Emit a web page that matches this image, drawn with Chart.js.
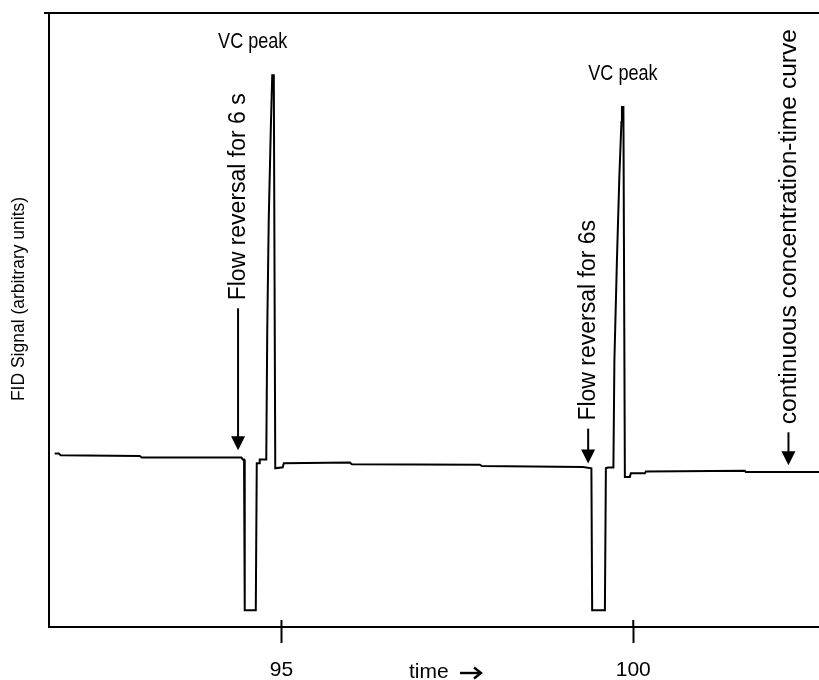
<!DOCTYPE html>
<html><head><meta charset="utf-8">
<script src="https://cdn.jsdelivr.net/npm/chart.js@4/dist/chart.umd.min.js"></script>
<style>html,body{margin:0;padding:0;background:#fff}#wrap{width:819px;height:680px;position:relative}</style>
</head><body><div id="wrap"><canvas id="c"></canvas></div>
<script>
// ---- data ----
const timeValues = [91.777, 91.834, 91.862, 92.985, 93.014, 94.431, 94.450, 94.468, 94.478, 94.635,
  94.649, 94.684, 94.691, 94.784, 94.798, 94.819, 94.848, 94.869, 94.891, 94.912,
  95.018, 95.033, 95.971, 96.000, 97.820, 97.848, 99.284, 99.405, 99.416, 99.597,
  99.611, 99.640, 99.718, 99.732, 99.768, 99.803, 99.832, 99.839, 99.860, 99.881,
  99.952, 99.966, 100.166, 100.180, 101.587, 101.601, 102.640];
const signalValues = [28.24, 28.24, 27.96, 27.85, 27.59, 27.59, 27.26, 27.26, 2.72, 2.72,
  26.66, 26.66, 27.26, 27.26, 48.32, 66.24, 80.90, 89.85, 89.85, 25.85,
  26.01, 26.66, 26.78, 26.50, 26.42, 26.21, 26.06, 25.85, 2.72, 2.72,
  25.85, 25.98, 25.98, 43.44, 59.72, 73.57, 82.25, 84.69, 84.69, 24.43,
  24.43, 25.03, 25.03, 25.33, 25.44, 25.24, 25.24];
const tickValues = [95, 100];
const tickLabels = ['95', '100'];
const yAxisTitle = 'FID Signal (arbitrary units)';
const xAxisTitle = 'time';
const peakLabels = ['VC peak', 'VC peak'];
const peakTimes = [94.592, 99.853];
const peakSignals = [94.25, 89.04];
const markerLabels = ['Flow reversal for 6 s', 'Flow reversal for 6s', 'continuous concentration-time curve'];
const markerTimes = [94.383, 99.359, 102.206];
const markerSignals = [28.78, 26.61, 26.34];

// ---- styling / layout ----
const ink = '#000';
const FONT = '"Liberation Sans", Arial, Helvetica, sans-serif';
const markerTextGap = [150, 43, 41];
const markerStretch = [1.0, 1.0, 1.07];

function txt(ctx, s, x, y, size, o) {
  o = o || {};
  ctx.save();
  ctx.translate(x, y);
  if (o.rot) ctx.rotate(o.rot);
  ctx.scale(o.sx || 1, o.sy || 1);
  ctx.font = size + 'px ' + FONT;
  ctx.fillStyle = ink;
  ctx.textAlign = o.align || 'center';
  ctx.textBaseline = o.baseline || 'middle';
  ctx.fillText(s, 0, 0);
  ctx.restore();
}

const decor = {
  id: 'decor',
  afterDraw(chart) {
    const ctx = chart.ctx, xs = chart.scales.x, ys = chart.scales.y, a = chart.chartArea;
    ctx.save();
    // top frame line
    ctx.strokeStyle = ink; ctx.lineWidth = 2;
    ctx.beginPath(); ctx.moveTo(a.left - 5, a.top); ctx.lineTo(a.right, a.top); ctx.stroke();
    // tick stubs above the axis
    tickValues.forEach(v => {
      const x = xs.getPixelForValue(v);
      ctx.beginPath(); ctx.moveTo(x, a.bottom - 7); ctx.lineTo(x, a.bottom); ctx.stroke();
    });
    // y axis title
    txt(ctx, yAxisTitle, 19, 299, 17.5, {rot: -Math.PI / 2});
    // x axis title with arrow
    txt(ctx, xAxisTitle, 409, 672, 21, {align: 'left'});
    ctx.lineWidth = 2.4;
    ctx.beginPath(); ctx.moveTo(460, 673); ctx.lineTo(480, 673); ctx.stroke();
    ctx.beginPath(); ctx.moveTo(474, 667.5); ctx.lineTo(481, 673); ctx.lineTo(474, 678.5); ctx.stroke();
    ctx.lineWidth = 2;
    // peak labels
    peakLabels.forEach((s, i) => {
      txt(ctx, s, xs.getPixelForValue(peakTimes[i]), ys.getPixelForValue(peakSignals[i]), 21.5, {sx: 0.84, baseline: 'alphabetic'});
    });
    // markers with arrows
    markerLabels.forEach((s, i) => {
      const x = xs.getPixelForValue(markerTimes[i]);
      const tip = ys.getPixelForValue(markerSignals[i]);
      const textBottom = tip - markerTextGap[i];
      txt(ctx, s, x + 1, textBottom, 23, {rot: -Math.PI / 2, align: 'left', sx: markerStretch[i]});
      const head = 14;
      ctx.strokeStyle = ink; ctx.lineWidth = 2;
      ctx.beginPath(); ctx.moveTo(x, textBottom + 8); ctx.lineTo(x, tip - head + 2); ctx.stroke();
      ctx.fillStyle = ink;
      ctx.beginPath(); ctx.moveTo(x - 7, tip - head); ctx.lineTo(x + 7, tip - head); ctx.lineTo(x, tip); ctx.closePath(); ctx.fill();
    });
    ctx.restore();
  }
};

new Chart(document.getElementById('c'), {
  type: 'line',
  data: {
    datasets: [{
      data: timeValues.map((t, i) => ({x: t, y: signalValues[i]})),
      borderColor: ink,
      borderWidth: 2,
      pointRadius: 0,
      tension: 0,
      fill: false,
      clip: false
    }]
  },
  options: {
    responsive: true,
    maintainAspectRatio: false,
    animation: false,
    events: [],
    layout: {padding: {top: 13, right: 0, bottom: 0, left: 0}},
    plugins: {legend: {display: false}, tooltip: {enabled: false}, title: {display: false}},
    scales: {
      x: {
        type: 'linear',
        min: 91.696, max: 102.64,
        afterBuildTicks: s => { s.ticks = tickValues.map(v => ({value: v})); },
        afterFit: s => { s.height = 53; },
        ticks: {
          color: ink, font: {family: FONT, size: 21}, padding: 15, maxRotation: 0,
          callback: v => tickLabels[tickValues.indexOf(v)]
        },
        grid: {display: true, drawOnChartArea: false, drawTicks: true, tickLength: 16, tickWidth: 2, tickColor: ink, color: ink},
        border: {display: true, color: ink, width: 2}
      },
      y: {
        type: 'linear', min: 0, max: 100,
        afterFit: s => { s.width = 49; },
        ticks: {display: false},
        grid: {display: false},
        border: {display: true, color: ink, width: 2}
      }
    }
  },
  plugins: [decor]
});
</script>
</body></html>
